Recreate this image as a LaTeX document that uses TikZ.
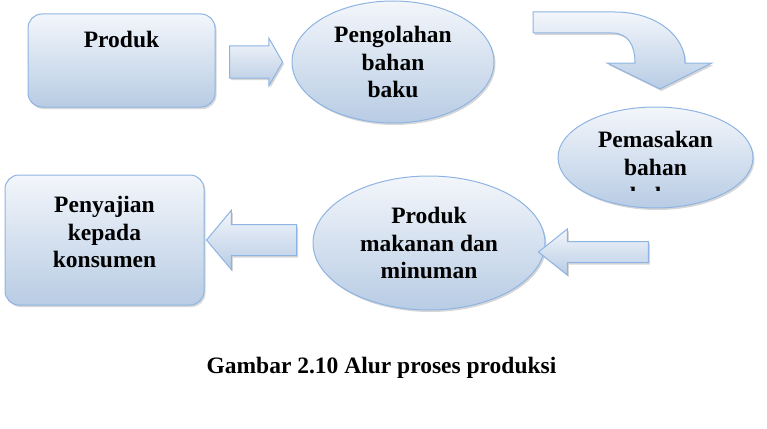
\documentclass[tikz,border=0pt]{standalone}
\usepackage{fontspec}
\setmainfont{Liberation Serif}
\usetikzlibrary{shapes.geometric,shapes.arrows,shadows}
\definecolor{rim}{HTML}{8EB4E3}
\definecolor{lite}{HTML}{F3F6FB}
\definecolor{deep}{HTML}{B8CCE4}
\tikzset{
  fillblue/.style={draw=rim, line width=1pt, top color=lite, bottom color=deep,
    drop shadow={shadow xshift=1.5pt, shadow yshift=-2pt, opacity=0.35, fill=black!45}},
  boxnode/.style={fillblue, rectangle, rounded corners=14pt, inner sep=0pt},
  ovalnode/.style={fillblue, ellipse, inner sep=0pt, align=center},
  blockarrow/.style={fillblue, single arrow, inner sep=0pt, text width=0pt, text depth=0pt}
}

\begin{document}
\begin{tikzpicture}[x=1pt,y=-1pt,font=\fontsize{23.5}{27.5}\selectfont\bfseries]
\useasboundingbox (0,0) rectangle (767,428);

\node[boxnode, minimum width=187pt, minimum height=93pt,
  label={[anchor=base,yshift=-34pt]north:Produk}] (A1) at (121.5,60.5) {};
\node[ovalnode, minimum width=202pt, minimum height=122pt] (A2) at (393,62) {Pengolahan\\bahan\\baku};
\node[ovalnode, minimum width=195pt, minimum height=101pt,
  label={[align=center,yshift=4pt]center:Pemasakan\\bahan}] (A3) at (655.5,157.5) {};

\node[boxnode, minimum width=199pt, minimum height=130pt,
  label={[align=center,yshift=8pt]center:Penyajian\\kepada\\konsumen}] (B1) at (104.5,240) {};
\node[ovalnode, minimum width=232pt, minimum height=134pt] (B2) at (429,243) {Produk\\makanan dan\\minuman};

\begin{scope}
\clip (600,180) rectangle (710,190.5);
\node[anchor=base] (A3b) at (655.5,203) {baku};
\end{scope}

\node[blockarrow, text height=31pt, minimum height=53pt,
  single arrow head extend=8pt, single arrow tip angle=120] (R1) at (251.5,62) {};
\node[blockarrow, text height=30pt, minimum height=90pt, shape border rotate=180,
  single arrow head extend=14pt, single arrow tip angle=100] (R2) at (258,240) {};
\node[blockarrow, text height=20pt, minimum height=110pt, shape border rotate=180,
  single arrow head extend=12.5pt, single arrow tip angle=77] (R3) at (600,252) {};

\draw[fillblue] (533,12) -- (615,12) .. controls (655,12) and (685,35) .. (685,63)
  -- (712,63) -- (660,89) -- (607,63) -- (635,63)
  .. controls (635,45) and (628,33) .. (612,33) -- (533,33) -- cycle;

\node[anchor=base] (cap) at (381.5,373) {Gambar 2.10 Alur proses produksi};
\end{tikzpicture}
\end{document}
